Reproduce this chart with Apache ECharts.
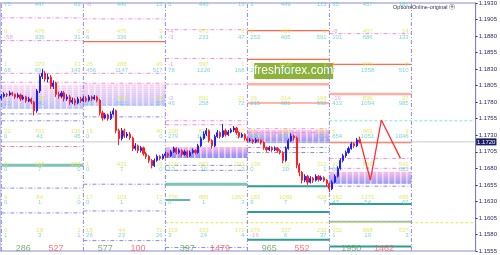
<!DOCTYPE html>
<html><head><meta charset="utf-8">
<script src="https://cdn.jsdelivr.net/npm/echarts@6/dist/echarts.min.js"></script>
<style>html,body{margin:0;padding:0;background:#fff}#c{width:500px;height:255px}</style>
</head><body><div id="c"></div>
<script>
// ---- data ----
const slotCount = 174;
const sectionStarts = [0, 30, 60, 90, 120, 150];
// candles: [open, close, low, high]
const candles = [
[1.1786,1.1789,1.1783,1.1792],[1.1789,1.1792,1.1787,1.1795],[1.1792,1.1791,1.1788,1.1794],[1.1791,1.1794,1.1789,1.1797],
[1.1794,1.1792,1.1789,1.1796],[1.1792,1.1788,1.1785,1.1793],[1.1788,1.1791,1.1786,1.1794],[1.1791,1.1785,1.1782,1.1793],
[1.1785,1.1788,1.1783,1.1791],[1.1788,1.1782,1.1779,1.1790],[1.1782,1.1785,1.1780,1.1788],[1.1785,1.1780,1.1777,1.1787],
[1.1780,1.1767,1.1760,1.1782],[1.1767,1.1797,1.1764,1.1800],[1.1797,1.1819,1.1794,1.1822],[1.1819,1.1824,1.1815,1.1830],
[1.1824,1.1815,1.1811,1.1827],[1.1815,1.1818,1.1810,1.1823],[1.1818,1.1804,1.1800,1.1821],[1.1804,1.1809,1.1800,1.1813],
[1.1809,1.1792,1.1788,1.1811],[1.1792,1.1789,1.1785,1.1796],[1.1789,1.1794,1.1786,1.1797],[1.1794,1.1785,1.1781,1.1797],
[1.1785,1.1788,1.1782,1.1792],[1.1788,1.1780,1.1776,1.1791],[1.1780,1.1783,1.1777,1.1787],[1.1783,1.1779,1.1775,1.1786],
[1.1779,1.1785,1.1777,1.1788],[1.1785,1.1782,1.1779,1.1788],[1.1782,1.1786,1.1780,1.1789],[1.1786,1.1783,1.1780,1.1789],
[1.1783,1.1788,1.1781,1.1791],[1.1788,1.1785,1.1782,1.1790],[1.1785,1.1788,1.1783,1.1791],[1.1788,1.1783,1.1780,1.1790],
[1.1783,1.1764,1.1760,1.1785],[1.1764,1.1756,1.1752,1.1767],[1.1756,1.1761,1.1754,1.1764],[1.1761,1.1755,1.1752,1.1763],
[1.1755,1.1762,1.1753,1.1766],[1.1762,1.1767,1.1760,1.1771],[1.1767,1.1737,1.1733,1.1769],[1.1737,1.1725,1.1715,1.1740],
[1.1725,1.1737,1.1722,1.1741],[1.1737,1.1729,1.1726,1.1740],[1.1729,1.1732,1.1726,1.1735],[1.1732,1.1726,1.1723,1.1735],
[1.1726,1.1710,1.1706,1.1728],[1.1710,1.1714,1.1707,1.1718],[1.1714,1.1707,1.1703,1.1716],[1.1707,1.1711,1.1704,1.1714],
[1.1711,1.1702,1.1699,1.1713],[1.1702,1.1698,1.1694,1.1705],[1.1698,1.1692,1.1688,1.1700],[1.1692,1.1684,1.1680,1.1694],
[1.1684,1.1692,1.1682,1.1695],[1.1692,1.1698,1.1690,1.1701],[1.1698,1.1695,1.1692,1.1700],[1.1695,1.1699,1.1693,1.1702],
[1.1699,1.1702,1.1696,1.1705],[1.1702,1.1699,1.1696,1.1704],[1.1699,1.1705,1.1697,1.1708],[1.1705,1.1710,1.1703,1.1713],
[1.1710,1.1704,1.1701,1.1712],[1.1704,1.1707,1.1702,1.1710],[1.1707,1.1701,1.1698,1.1709],[1.1701,1.1705,1.1699,1.1708],
[1.1705,1.1699,1.1696,1.1707],[1.1699,1.1704,1.1697,1.1707],[1.1704,1.1707,1.1702,1.1710],[1.1707,1.1704,1.1701,1.1709],
[1.1704,1.1714,1.1702,1.1717],[1.1714,1.1725,1.1712,1.1728],[1.1725,1.1732,1.1723,1.1736],[1.1732,1.1737,1.1729,1.1741],
[1.1737,1.1722,1.1719,1.1739],[1.1722,1.1714,1.1710,1.1724],[1.1714,1.1728,1.1712,1.1731],[1.1728,1.1734,1.1726,1.1738],
[1.1734,1.1728,1.1725,1.1736],[1.1728,1.1737,1.1726,1.1747],[1.1737,1.1731,1.1728,1.1740],[1.1731,1.1735,1.1729,1.1738],
[1.1735,1.1738,1.1733,1.1741],[1.1738,1.1741,1.1735,1.1744],[1.1741,1.1734,1.1731,1.1743],[1.1734,1.1728,1.1725,1.1736],
[1.1728,1.1731,1.1726,1.1734],[1.1731,1.1725,1.1722,1.1733],[1.1725,1.1722,1.1719,1.1727],[1.1722,1.1723,1.1720,1.1726],
[1.1723,1.1720,1.1717,1.1725],[1.1720,1.1723,1.1718,1.1726],[1.1723,1.1722,1.1719,1.1725],[1.1722,1.1719,1.1716,1.1724],
[1.1719,1.1711,1.1708,1.1721],[1.1711,1.1708,1.1705,1.1713],[1.1708,1.1711,1.1706,1.1714],[1.1711,1.1708,1.1705,1.1713],
[1.1708,1.1710,1.1706,1.1713],[1.1710,1.1707,1.1704,1.1712],[1.1707,1.1704,1.1701,1.1709],[1.1704,1.1692,1.1688,1.1706],
[1.1692,1.1710,1.1690,1.1713],[1.1710,1.1722,1.1708,1.1725],[1.1722,1.1729,1.1720,1.1733],[1.1729,1.1726,1.1722,1.1731],
[1.1726,1.1685,1.1680,1.1728],[1.1685,1.1674,1.1668,1.1688],[1.1674,1.1662,1.1657,1.1676],[1.1662,1.1668,1.1659,1.1671],
[1.1668,1.1659,1.1655,1.1670],[1.1659,1.1665,1.1657,1.1668],[1.1665,1.1662,1.1658,1.1667],[1.1662,1.1668,1.1660,1.1671],
[1.1668,1.1663,1.1660,1.1670],[1.1663,1.1666,1.1661,1.1669],[1.1666,1.1662,1.1659,1.1668],[1.1662,1.1657,1.1653,1.1664],
[1.1657,1.1649,1.1644,1.1659],[1.1649,1.1659,1.1647,1.1662],[1.1659,1.1668,1.1657,1.1671],[1.1668,1.1680,1.1666,1.1683],
[1.1680,1.1692,1.1678,1.1695],[1.1692,1.1699,1.1689,1.1702],[1.1699,1.1704,1.1696,1.1707],[1.1704,1.1710,1.1702,1.1713],
[1.1710,1.1717,1.1708,1.1720],[1.1717,1.1714,1.1711,1.1719],[1.1714,1.1723,1.1712,1.1726],[1.1723,1.1720,1.1718,1.1728]
];
const currentPrice = 1.1720;
// forecast zigzag: [slot, price]
const zigzag = [[131,1.1726],[135,1.1662],[139,1.1753],[146,1.1695]];

// level lines: [section, price]
const redLevels = [[1,1.18716],[3,1.18881],[3,1.18447],[4,1.18372],[3,1.17788],[4,1.17189]];
const salmonLevels = [[3,1.18073],[4,1.17923]];
const pinkLevels = [[0,1.19075],[0,1.18731],[0,1.18237],[0,1.18102],[1,1.19060],[1,1.18237],[1,1.18087],
  [2,1.18896],[2,1.18462],[2,1.18073],[4,1.18836],[4,1.16950],[4,1.16800],[2,1.17519],[2,1.17459],[3,1.17399],[3,1.17339]];
const redDashLevels = [[0,1.17129]];
const blueLevels = [[0,1.17623],[0,1.17519],[0,1.16501],[0,1.16126],[1,1.17578],[1,1.16560],[1,1.16156],[1,1.15707],
  [2,1.16770],[2,1.15602],[2,1.16845],[3,1.17114],[3,1.17039],[4,1.16530]];
const tealWide = [[0,1.16845],[2,1.16560]];
const tealLevels = [[3,1.16530],[3,1.16141],[3,1.15722],[4,1.16261],[4,1.15617]];
const grayTealLevels = [[4,1.15992]];
const shortTeal = [[60,69,1.16321]];
const yellowDash = [[60,173,1.15977]];
const cyanDash = [[120,173,1.17519]];
// dense bands per section (prices)
const bands = [
  [1.18043,1.18013,1.17983,1.17953,1.17923,1.17893,1.17863,1.17833,1.17803,1.17773,1.17743,1.17713],
  [1.18058,1.18028,1.17998,1.17968,1.17938,1.17908,1.17878,1.17848,1.17818,1.17788,1.17758],
  [1.17114,1.17099,1.17084,1.17069,1.17054,1.17039,1.17024,1.17009,1.16995,1.16980,1.16965],
  [1.17369,1.17354,1.17339,1.17324,1.17309,1.17294,1.17279,1.17264,1.17249,1.17234,1.17219,1.17204,1.17189],
  [1.16740,1.16725,1.16710,1.16695,1.16680,1.16665,1.16650,1.16635,1.16620,1.16605,1.16590,1.16575]
];

// text grid
const levelPrices = [1.1933,1.1883,1.1833,1.1783,1.1733,1.1683,1.1633,1.1583];
const yellowRows = [
  [[9,476,0],[1,373,13],[4,558,17],[22,701,136],[8,418,155],[9,84,1],[0,29,1]],
  [[6,476,9],[25,288,49],[12,520,34],[16,532,40],[1,431,26],[17,103,17],[15,44,72]],
  [[-4,472,6],[-1,597,1],[-2,591,23],[200,831,267],[139,563,222],[776,886,1067],[118,163,172]],
  [[0,459,0],[1,1036,1],[23,914,168],[43,603,557],[139,712,312],[183,1089,428],[176,337,232]],
  [[-8,407,14],[1,976,6],[-19,836,27],[6,969,9],[12,856,541],[162,1271,495],[332,668,537]]
];
const cyanRows = [
  [[75,447,83],[-58,336,31],[68,691,143],[21,540,63],[0,41,45],[0,7,0],[0,1,0],[1,3,1]],
  [[-6,446,15],[6,336,4],[456,1147,517],[33,612,57],[0,34,0],[0,7,0],[0,1,0],[26,23,26]],
  [[5,446,13],[-3,233,47],[78,1226,168],[46,258,72],[279,1036,356],[13,20,2],[0,1,3],[3,24,4]],
  [[3,449,113],[253,405,591],[2,1150,3],[215,681,532],[420,1012,609],[0,20,1],[6,7,7],[-16,6,37]],
  [[35,457,191],[101,686,133],[7,1558,510],[413,1094,985],[854,1051,1046],[601,7,622],[47,54,62],[1,10,3]]
];
const bottomGreen = [286,577,397,965,1950];
const bottomRed = [527,100,1479,552,1462];
const bottomPrice = 1.1559;

// ---- build ----
const categories = Array.from({length: slotCount}, (_, i) => String(i));
const FONT = 'Liberation Sans, Arial, sans-serif';
const dashDot = [4, 2, 1, 2];
const series = [];

function hline(x0, x1, price, style, z) {
  series.push({
    type: 'line', data: [[x0, price], [x1, price]], symbol: 'none', silent: true, z: z || 1,
    lineStyle: style, emphasis: {disabled: true}, animation: false
  });
}
function secLine(sec, price, style, z) { hline(sectionStarts[sec], sectionStarts[sec + 1], price, style, z); }

function mix(c1, c2, t) {
  const a = c1.match(/\w\w/g).map(h => parseInt(h, 16)), b = c2.match(/\w\w/g).map(h => parseInt(h, 16));
  return 'rgb(' + a.map((v, i) => Math.round(v + (b[i] - v) * t)).join(',') + ')';
}
bands.forEach((arr, s) => arr.forEach((p, i) => {
  const t = arr.length > 1 ? i / (arr.length - 1) : 0;
  secLine(s, p, {color: mix('f7a2dc', '6e6ef4', t), width: 1, type: [5, 1], opacity: 0.8}, 1);
}));
pinkLevels.forEach(([s, p]) => secLine(s, p, {color: '#f08fd6', width: 1, type: dashDot}, 2));
redDashLevels.forEach(([s, p]) => secLine(s, p, {color: '#f07a8a', width: 1, type: dashDot}, 2));
blueLevels.forEach(([s, p]) => secLine(s, p, {color: '#8a8ae8', width: 1, type: dashDot}, 2));
redLevels.forEach(([s, p]) => secLine(s, p, {color: '#ff6a4a', width: 1.2, type: 'solid'}, 2));
salmonLevels.forEach(([s, p]) => secLine(s, p, {color: '#ffb0a2', width: 2.5, type: 'solid'}, 2));
tealWide.forEach(([s, p]) => secLine(s, p, {color: '#7cc4b4', width: 3, type: 'solid'}, 2));
tealLevels.forEach(([s, p]) => secLine(s, p, {color: '#2f9d92', width: 2, type: 'solid'}, 2));
grayTealLevels.forEach(([s, p]) => secLine(s, p, {color: '#9cbcbc', width: 2, type: 'solid'}, 2));
shortTeal.forEach(([a, b, p]) => hline(a, b, p, {color: '#2f9d92', width: 1.5, type: 'solid'}, 2));
yellowDash.forEach(([a, b, p]) => hline(a, b, p, {color: '#e6e64a', width: 1, type: [3, 2]}, 2));
cyanDash.forEach(([a, b, p]) => hline(a, b, p, {color: '#88e4e4', width: 1, type: [3, 2]}, 2));
// section separators
sectionStarts.forEach(s => series.push({
  type: 'line', data: [[s, 1.1555], [s, 1.1930]], symbol: 'none', silent: true, z: 2,
  lineStyle: {color: '#8c8ce2', width: 1, type: dashDot}, animation: false
}));

const texts = [];
function pushRow(sec, price, vals, color) {
  const s = sectionStarts[sec];
  const cols = [[s + 1, 'left'], [s + 14, 'center'], [s + 29, 'right']];
  vals.forEach((v, j) => texts.push({
    value: [cols[j][0], price],
    label: {formatter: String(v), align: cols[j][1], color: v < 0 ? '#e48ae6' : color}
  }));
}
yellowRows.forEach((rows, s) => rows.forEach((vals, r) => pushRow(s, levelPrices[r + 1] + 0.00035, vals, '#e2e24c')));
cyanRows.forEach((rows, s) => rows.forEach((vals, r) => pushRow(s, levelPrices[r] - 0.0005, vals, '#5ccccc')));
const bottomTexts = [];
bottomGreen.forEach((v, s) => bottomTexts.push({value: [sectionStarts[s] + 8, bottomPrice], label: {formatter: String(v), color: '#5c9c50'}}));
bottomRed.forEach((v, s) => bottomTexts.push({value: [sectionStarts[s] + 20, bottomPrice], label: {formatter: String(v), color: '#ff5555'}}));

series.push({
  type: 'scatter', z: 3, silent: true, symbolSize: 0, data: texts, animation: false,
  label: {show: true, position: 'inside', fontSize: 6, fontFamily: FONT, verticalAlign: 'middle'}
});
series.push({
  type: 'scatter', z: 3, silent: true, symbolSize: 0, data: bottomTexts, animation: false,
  label: {show: true, position: 'inside', fontSize: 9, fontFamily: FONT, align: 'center', verticalAlign: 'middle'}
});
series.push({
  type: 'line', z: 3, silent: true, symbol: 'none', animation: false,
  data: [[0, currentPrice], [slotCount - 1, currentPrice]],
  lineStyle: {color: '#cccccc', width: 1},
  markPoint: {
    symbol: 'rect', symbolSize: 0, silent: true,
    data: [{coord: [slotCount - 1, currentPrice]}],
    label: {show: true, position: 'inside', offset: [12, 0], formatter: currentPrice.toFixed(4), fontSize: 6, fontFamily: FONT,
      color: '#ffffff', backgroundColor: '#1a1a66', padding: [1, 1, 0, 1]}
  }
});
series.push({
  type: 'candlestick', z: 5, data: candles, barWidth: 1.6, animation: false,
  itemStyle: {color: '#1f1fff', color0: '#ff1f1f', borderColor: '#1f1fff', borderColor0: '#ff1f1f', borderWidth: 1}
});
series.push({
  type: 'line', z: 6, data: zigzag, symbol: 'none', silent: true, animation: false,
  lineStyle: {color: '#ff3030', width: 1.3}
});

const chart = echarts.init(document.getElementById('c'), null, {renderer: 'canvas'});
chart.setOption({
  animation: false,
  backgroundColor: '#ffffff',
  grid: {left: 0, right: 18, top: 1, bottom: 4, show: true, borderColor: '#8c8cd8', borderWidth: 1},
  xAxis: {type: 'category', data: categories, boundaryGap: true, show: false},
  yAxis: {
    type: 'value', position: 'right', min: 1.1555, max: 1.1930, interval: 0.0025, scale: true,
    axisLine: {show: true, lineStyle: {color: '#7f7fc8', width: 1}},
    axisTick: {show: true, length: 2, lineStyle: {color: '#333366'}},
    splitLine: {show: false},
    axisLabel: {fontSize: 6, color: '#2a2a66', margin: 3, fontFamily: FONT, formatter: v => v.toFixed(4)}
  },
  graphic: [
    {type: 'text', right: 45, top: 4, z: 50, style: {text: 'OptionsOnline-original ⓔ', fill: '#333344', font: '5.5px ' + FONT}},
    {type: 'group', left: 254, top: 63, z: 100, children: [
      {type: 'rect', shape: {x: 0, y: 0, width: 79, height: 16}, style: {fill: '#8db23c'}},
      {type: 'text', x: 39.5, y: 8, style: {text: 'freshforex.com', fill: '#ffffff', font: '12px ' + FONT, align: 'center', verticalAlign: 'middle'}}
    ]}
  ],
  series: series
});
</script></body></html>
